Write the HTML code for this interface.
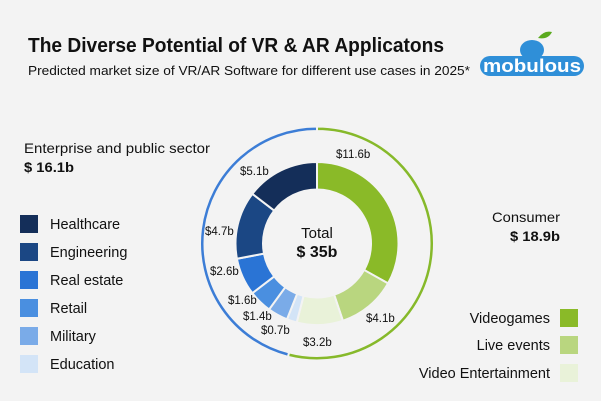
<!DOCTYPE html>
<html><head><meta charset="utf-8"><style>
html,body{margin:0;padding:0;background:#f3f3f3;}
svg{display:block;font-family:"Liberation Sans",sans-serif;}
</style></head><body>
<svg id="s" width="601" height="401" viewBox="0 0 601 401">
<rect width="601" height="401" fill="#f3f3f3"/>
<text x="28" y="52" font-size="20" font-weight="bold" fill="#111" textLength="416" lengthAdjust="spacingAndGlyphs">The Diverse Potential of VR &amp; AR Applicatons</text>
<text x="28" y="75" font-size="13" fill="#111" textLength="442" lengthAdjust="spacingAndGlyphs">Predicted market size of VR/AR Software for different use cases in 2025*</text>
<g>
<ellipse cx="532" cy="50" rx="12" ry="10" fill="#2f8fd8"/>
<path d="M538 38 q6 -8 14 -6 q-4 8 -14 6z" fill="#5aaa1e"/>
<rect x="480" y="56" width="104" height="20" rx="10" fill="#2f8fd8"/>
<text x="532" y="72" font-size="18" font-weight="bold" fill="#fff" text-anchor="middle" textLength="98" lengthAdjust="spacingAndGlyphs">mobulous</text>
</g>
<g id="donut"></g>
<text x="317" y="238" font-size="15" text-anchor="middle" fill="#111">Total</text>
<text x="317" y="257" font-size="16" font-weight="bold" text-anchor="middle" fill="#111">$ 35b</text>
<g font-size="11.5" fill="#111">
<text x="336" y="158">$11.6b</text>
<text x="240" y="175">$5.1b</text>
<text x="205" y="235">$4.7b</text>
<text x="210" y="275">$2.6b</text>
<text x="228" y="304">$1.6b</text>
<text x="243" y="320">$1.4b</text>
<text x="261" y="334">$0.7b</text>
<text x="303" y="346">$3.2b</text>
<text x="366" y="322">$4.1b</text>
</g>
<g font-size="14" fill="#111">
<text x="24" y="153" textLength="186" lengthAdjust="spacingAndGlyphs">Enterprise and public sector</text>
<text x="24" y="172" font-weight="bold" textLength="50" lengthAdjust="spacingAndGlyphs">$ 16.1b</text>
<text x="492" y="222" textLength="68" lengthAdjust="spacingAndGlyphs">Consumer</text>
<text x="510" y="241" font-weight="bold" textLength="50" lengthAdjust="spacingAndGlyphs">$ 18.9b</text>
</g>
<g font-size="14.5" fill="#111">
<rect x="20" y="215" width="18" height="18" fill="#142e59"/><text x="50" y="229">Healthcare</text>
<rect x="20" y="243" width="18" height="18" fill="#1b4784"/><text x="50" y="257">Engineering</text>
<rect x="20" y="271" width="18" height="18" fill="#2a74d5"/><text x="50" y="285">Real estate</text>
<rect x="20" y="299" width="18" height="18" fill="#4a8fe0"/><text x="50" y="313">Retail</text>
<rect x="20" y="327" width="18" height="18" fill="#7aabe8"/><text x="50" y="341">Military</text>
<rect x="20" y="355" width="18" height="18" fill="#d3e4f7"/><text x="50" y="369">Education</text>
<rect x="560" y="309" width="18" height="18" fill="#8aba28"/><text x="550" y="323" text-anchor="end">Videogames</text>
<rect x="560" y="336" width="18" height="18" fill="#b9d67f"/><text x="550" y="350" text-anchor="end">Live events</text>
<rect x="560" y="364" width="18" height="18" fill="#e9f2d9"/><text x="550" y="378" text-anchor="end">Video Entertainment</text>
</g>
</svg>
<script>
(function(){
var cx=317,cy=243.5,R=81.5,r=54,ns="http://www.w3.org/2000/svg",g=document.getElementById("donut");
function pt(a,rad){return [cx+rad*Math.sin(a),cy-rad*Math.cos(a)];}
function seg(a0,a1,R,r,col){
 var p1=pt(a0,R),p2=pt(a1,R),p3=pt(a1,r),p4=pt(a0,r),l=(a1-a0)>Math.PI?1:0;
 var d="M"+p1+" A"+R+","+R+" 0 "+l+" 1 "+p2+" L"+p3+" A"+r+","+r+" 0 "+l+" 0 "+p4+"Z";
 var e=document.createElementNS(ns,"path");e.setAttribute("d",d);e.setAttribute("fill",col);
 e.setAttribute("stroke","#f3f3f3");e.setAttribute("stroke-width","2");g.appendChild(e);}
var data=[[11.6,"#8aba28"],[4.1,"#b9d67f"],[3.2,"#e9f2d9"],[0.7,"#d3e4f7"],[1.4,"#7aabe8"],[1.6,"#4a8fe0"],[2.6,"#2a74d5"],[4.7,"#1b4784"],[5.1,"#142e59"]];
var a=0;data.forEach(function(d){var b=a+d[0]/35*2*Math.PI;seg(a,b,R,r,d[1]);a=b;});
var A=18.9/35*2*Math.PI;
seg(0,A,117,112.5,"#86b92a");seg(A,2*Math.PI,117,112.5,"#3c7dd6");
})();
</script>
</body></html>
